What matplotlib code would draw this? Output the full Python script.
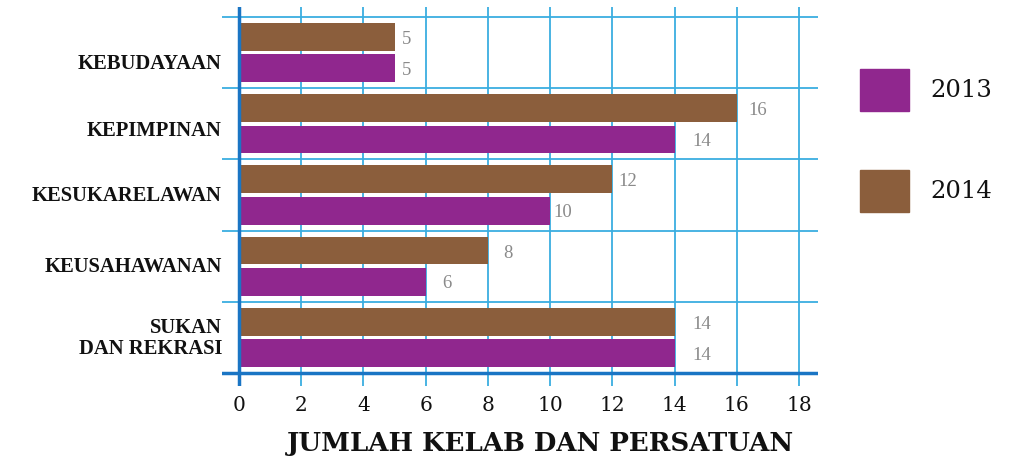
import matplotlib
matplotlib.use("Agg")
import matplotlib.pyplot as plt
import numpy as np

categories = ["KEBUDAYAAN", "KEPIMPINAN", "KESUKARELAWAN", "KEUSAHAWANAN", "SUKAN\nDAN REKRASI"]
v2013 = [5, 14, 10, 6, 14]
v2014 = [5, 16, 12, 8, 14]
xticks = [0, 2, 4, 6, 8, 10, 12, 14, 16, 18]
series_names = ["2013", "2014"]

# label placement tweaks (pixels)
dx2014 = [7.7, 11.7, 5.7, 15, 17.7]
dx2013 = [7.7, 18, 3.7, 16.7, 17.7]
cat_dy = [10, 6, 0, 0, 0]

c2013 = "#90278e"
c2014 = "#8b5e3c"
grid_c = "#3aaee0"
axis_c = "#1a75c4"

W, H = 1009, 464
fig = plt.figure(figsize=(W / 100, H / 100), dpi=100)

px_left, px_right = 222, 818
px_top, px_bottom = 8, 387
ax = fig.add_axes([px_left / W, 1 - px_bottom / H, (px_right - px_left) / W, (px_bottom - px_top) / H])
ppu_x = (799 - 239) / 18.0
x0 = -(239 - px_left) / ppu_x
x1 = (px_right - 239) / ppu_x
ppu_y = (374 - 18) / 5.0
y0 = -(px_bottom - 374) / ppu_y
y1 = 5 + (18 - px_top) / ppu_y
ax.set_xlim(x0, x1)
ax.set_ylim(y0, y1)
ax.axis("off")

n = len(categories)
centers = np.array([n - 1 - i + 0.5 for i in range(n)])
h = 0.39
off = 0.22
ax.barh(centers + off, v2014, height=h, color=c2014, zorder=3)
ax.barh(centers - off, v2013, height=h, color=c2013, zorder=3)

for t in xticks[1:]:
    ax.plot([t, t], [y0, y1], color=grid_c, lw=1.3, zorder=1)
for b in range(1, n + 1):
    ax.plot([x0, x1], [b, b], color=grid_c, lw=1.3, zorder=1)
ax.plot([x0, x1], [0, 0], color=axis_c, lw=2.5, zorder=4)
ax.plot([0, 0], [y0, y1], color=axis_c, lw=2.5, zorder=4)

serif = ["Liberation Serif", "DejaVu Serif"]
for c, v, d in zip(centers, v2014, dx2014):
    ax.text(v + d / ppu_x, c + off - 1.5 / ppu_y, str(v), color="#8a8a8a", fontsize=13.5, va="center", ha="left",
            family=serif, zorder=5)
for c, v, d in zip(centers, v2013, dx2013):
    ax.text(v + d / ppu_x, c - off - 1.0 / ppu_y, str(v), color="#8a8a8a", fontsize=13.5, va="center", ha="left",
            family=serif, zorder=5)

for t in xticks:
    ax.text(t, y0 - 19 / ppu_y, str(t), ha="center", va="center", fontsize=14.5, family="DejaVu Serif",
            color="#111111")

for c, lab, dy in zip(centers, categories, cat_dy):
    ax.text(-0.55, c - dy / ppu_y, lab, ha="right", va="center", fontsize=14.9, fontweight="bold", family=serif,
            color="#111111", linespacing=1.1)

fig.text(540 / W, 1 - 444 / H, "JUMLAH KELAB DAN PERSATUAN", ha="center", va="center", fontsize=18.7,
         fontweight="heavy", family="DejaVu Serif", color="#111111")

for yc, col, name in [(91, c2013, series_names[0]), (192, c2014, series_names[1])]:
    fig.patches.append(plt.Rectangle((860 / W, 1 - (yc + 21) / H), 49 / W, 42 / H, transform=fig.transFigure,
                                     color=col, figure=fig))
    fig.text(930 / W, 1 - yc / H, name, ha="left", va="center", fontsize=17.5, family="DejaVu Serif",
             color="#111111")

fig.savefig("out.png", dpi=100)
